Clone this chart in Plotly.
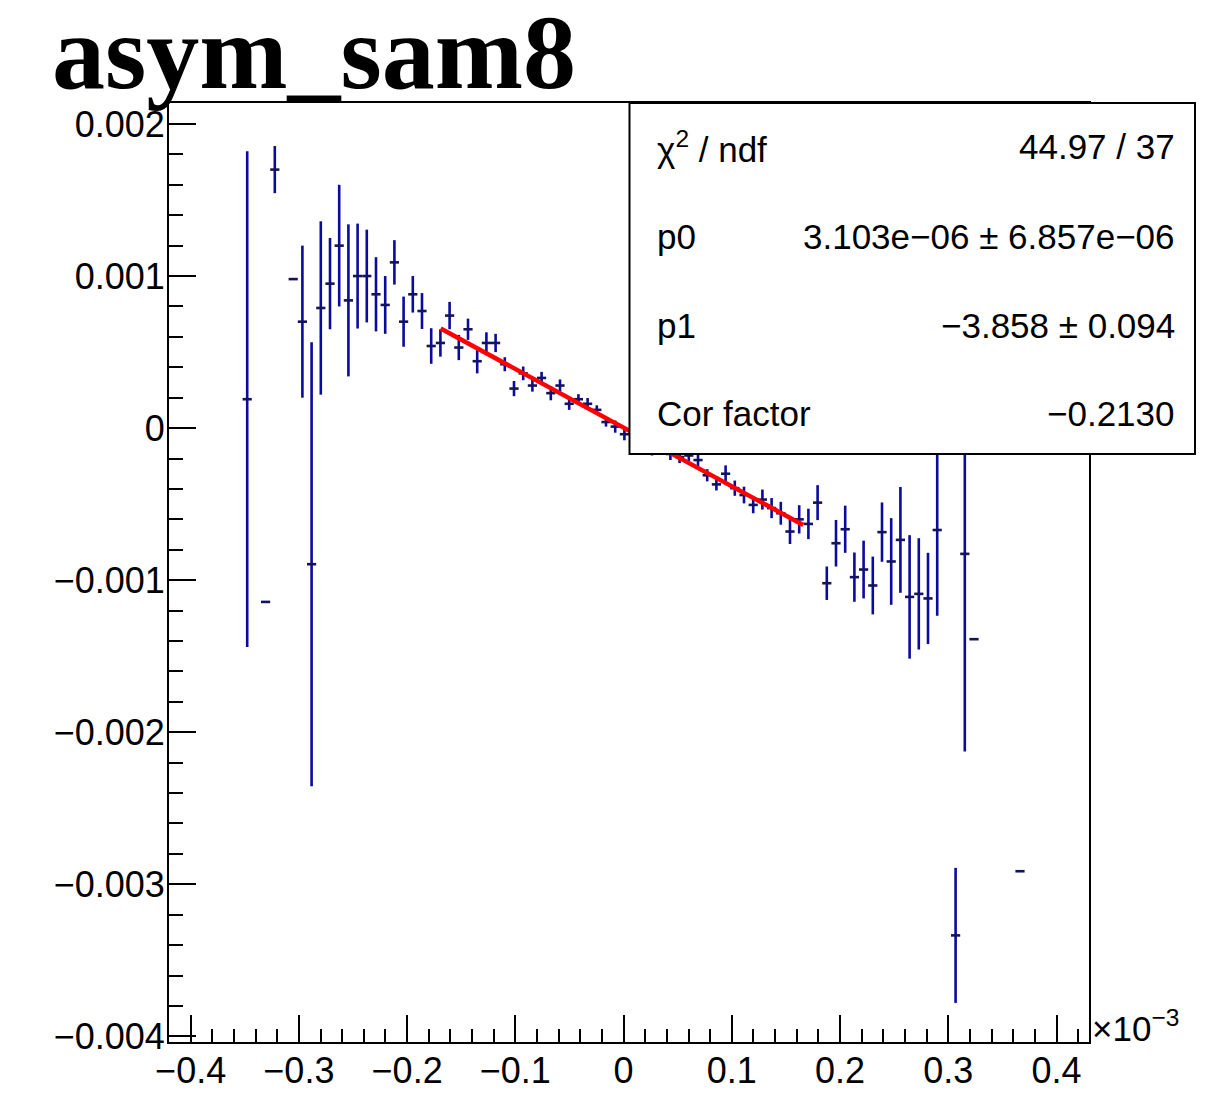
import plotly.graph_objects as go

# ---------------- data (x in units of 1e-3) ----------------
x_centers = [-0.34775, -0.33075, -0.32225, -0.30525, -0.29675, -0.28825, -0.27975,
             -0.27125, -0.26275, -0.25425, -0.24575, -0.23725, -0.22875, -0.22025,
             -0.21175, -0.20325, -0.19475, -0.18625, -0.17775, -0.16925, -0.16075,
             -0.15225, -0.14375, -0.13525, -0.12675, -0.11825, -0.10975, -0.10125,
             -0.09275, -0.08425, -0.07575, -0.06725, -0.05875, -0.05025, -0.04175,
             -0.03325, -0.02475, -0.01625, -0.00775, 0.00075, 0.00925, 0.01775,
             0.02625, 0.03475, 0.04325, 0.05175, 0.06025, 0.06875, 0.07725, 0.08575,
             0.09425, 0.10275, 0.11125, 0.11975, 0.12825, 0.13675, 0.14525, 0.15375,
             0.16225, 0.17075, 0.17925, 0.18775, 0.19625, 0.20475, 0.21325, 0.22175,
             0.23025, 0.23875, 0.24725, 0.25575, 0.26425, 0.27275, 0.28125, 0.28975,
             0.30675, 0.31525, 0.32375, 0.36625]

y_values = [0.00019, -0.001143, 0.00170, 0.00098, 0.00070, -0.000895, 0.00079,
            0.00095, 0.00120, 0.00084, 0.00100, 0.00100, 0.00088, 0.00081,
            0.00109, 0.00070, 0.00088, 0.00077, 0.00054, 0.00056, 0.00074,
            0.00053, 0.00065, 0.00044, 0.00056, 0.00056, 0.00042, 0.00026,
            0.00036, 0.00028, 0.00033, 0.00023, 0.00028, 0.00016, 0.00019,
            0.00016, 0.00012, 0.00004, 0.00001, -0.00004, -0.00003, -0.00006,
            -0.00013, -0.00012, -0.00017, -0.00019, -0.00018, -0.00021, -0.00031, -0.00037,
            -0.00030, -0.000395, -0.00044, -0.000505, -0.00047, -0.000526, -0.00056, -0.00068,
            -0.00060, -0.00063, -0.00049, -0.00102, -0.000757, -0.000665, -0.00098, -0.00093,
            -0.001035, -0.000684, -0.000877, -0.000735, -0.00111, -0.00109, -0.00112, -0.00067,
            -0.003336, -0.000827, -0.001388, -0.002914]

y_errors = [0.00163, 0.0, 0.000155, 0.0, 0.00050, 0.00146, 0.00057,
            0.00030, 0.00040, 0.00050, 0.000345, 0.000305, 0.000244, 0.00019,
            0.000146, 0.000165, 0.00012, 0.000118, 0.000117, 0.00009, 0.00009,
            0.000083, 0.00007, 0.00008, 0.00007, 0.00006, 0.000046, 0.00005,
            0.000045, 0.00004, 0.00004, 0.000047, 0.00004, 0.00004, 0.000033,
            0.000038, 0.00003, 0.00003, 0.00004, 0.00004, 0.00004, 0.00004,
            0.00005, 0.00004, 0.00004, 0.00004, 0.00004, 0.00004, 0.00004, 0.00004,
            0.000055, 0.00005, 0.000055, 0.000055, 0.000066, 0.000066, 0.000075, 0.000082,
            0.000093, 0.0001, 0.000115, 0.00011, 0.000153, 0.000155, 0.000162, 0.00019,
            0.00019, 0.000195, 0.000285, 0.000348, 0.000406, 0.000366, 0.00030, 0.000564,
            0.000444, 0.0013, 0.0, 0.0]

bin_half_width = 0.00425

fit_p0 = 3.103e-06
fit_p1 = -3.858
fit_range = [-0.169, 0.166]

x_tick_vals = [-0.4, -0.3, -0.2, -0.1, 0, 0.1, 0.2, 0.3, 0.4]
x_tick_text = ["\u22120.4", "\u22120.3", "\u22120.2", "\u22120.1", "0", "0.1", "0.2", "0.3", "0.4"]
y_tick_vals = [0.002, 0.001, 0, -0.001, -0.002, -0.003, -0.004]
y_tick_text = ["0.002", "0.001", "0", "\u22120.001", "\u22120.002", "\u22120.003", "\u22120.004"]

stats_labels = ["\u03c7<sup>2</sup> / ndf", "p0", "p1", "Cor factor"]
stats_values = ["44.97 / 37", "3.103e\u221206 \u00b1 6.857e\u221206", "\u22123.858 \u00b1 0.094", "\u22120.2130"]

title_text = "asym_sam8"

# ---------------- figure ----------------
OFF = 8  # page margin of the html body
W, H = 1205 - OFF, 1112 - 2 * OFF
L, T = 169 - OFF, 103 - OFF
pw, ph = 920, 939
R = W - L - pw
B = H - T - ph


def px_x(p):  # page pixel -> paper x
    return (p - OFF - L) / pw


def px_y(p):  # page pixel -> paper y
    return (H - B - (p - OFF)) / ph


blue = "#0a0a9c"
dark = "#14145a"
font_fam = "Liberation Sans, Arial, sans-serif"

fig = go.Figure()
fig.add_trace(go.Scatter(
    x=x_centers, y=y_values, mode="markers",
    marker=dict(size=1, color=blue),
    error_y=dict(type="data", array=y_errors, visible=True, color=blue, thickness=2.6, width=0),
    error_x=dict(type="constant", value=bin_half_width, visible=True, color=dark, thickness=2.6, width=0),
    showlegend=False, hoverinfo="skip", cliponaxis=True,
))

fit_x = fit_range
fit_y = [fit_p0 + fit_p1 * xv * 1e-3 for xv in fit_x]
fig.add_trace(go.Scatter(x=fit_x, y=fit_y, mode="lines",
                         line=dict(color="#ff0000", width=4.5),
                         showlegend=False, hoverinfo="skip"))

axis_common = dict(showline=True, mirror=True, linewidth=2, linecolor="black",
                   showgrid=False, zeroline=False, ticks="inside", ticklen=27,
                   tickwidth=2, tickcolor="black",
                   tickfont=dict(family=font_fam, size=36, color="black"))

fig.update_xaxes(range=[-0.42, 0.43], tickmode="array", tickvals=x_tick_vals,
                 ticktext=x_tick_text, ticklabelstandoff=-4,
                 minor=dict(ticks="inside", ticklen=13, tickwidth=2, tickcolor="black",
                            tickmode="linear", tick0=0, dtick=0.02),
                 **axis_common)
fig.update_yaxes(range=[-0.004037, 0.002138], tickmode="array", tickvals=y_tick_vals,
                 ticktext=y_tick_text, ticklabelstandoff=-5,
                 minor=dict(ticks="inside", ticklen=14, tickwidth=2, tickcolor="black",
                            tickmode="linear", tick0=0, dtick=0.0002),
                 **axis_common)

# stats box
fig.add_shape(type="rect", xref="paper", yref="paper",
              x0=px_x(629.5), x1=px_x(1195), y0=px_y(454), y1=px_y(103),
              fillcolor="white", line=dict(color="black", width=2), layer="above")

row_y = [146.7, 236.7, 325, 413.3]
for lab, val, yy in zip(stats_labels, stats_values, row_y):
    fig.add_annotation(xref="paper", yref="paper", x=px_x(655), y=px_y(yy),
                       xanchor="left", yanchor="middle", text=lab, showarrow=False,
                       font=dict(family=font_fam, size=35, color="black"))
    fig.add_annotation(xref="paper", yref="paper", x=px_x(1177), y=px_y(yy),
                       xanchor="right", yanchor="middle", text=val, showarrow=False,
                       font=dict(family=font_fam, size=35, color="black"))

# title
fig.add_annotation(xref="paper", yref="paper", x=px_x(50), y=px_y(52),
                   xanchor="left", yanchor="middle", text="<b>" + title_text + "</b>",
                   showarrow=False,
                   font=dict(family="Liberation Serif, Times New Roman, serif", size=106, color="black"))

# x10^-3 multiplier
fig.add_annotation(xref="paper", yref="paper", x=px_x(1090), y=px_y(1026),
                   xanchor="left", yanchor="middle", text="\u00d710<sup>\u22123</sup>",
                   showarrow=False, font=dict(family=font_fam, size=35, color="black"))

fig.update_layout(width=W, height=H, margin=dict(l=L, r=R, t=T, b=B, autoexpand=False),
                  plot_bgcolor="white", paper_bgcolor="white", showlegend=False)

fig.write_html("out.html")
